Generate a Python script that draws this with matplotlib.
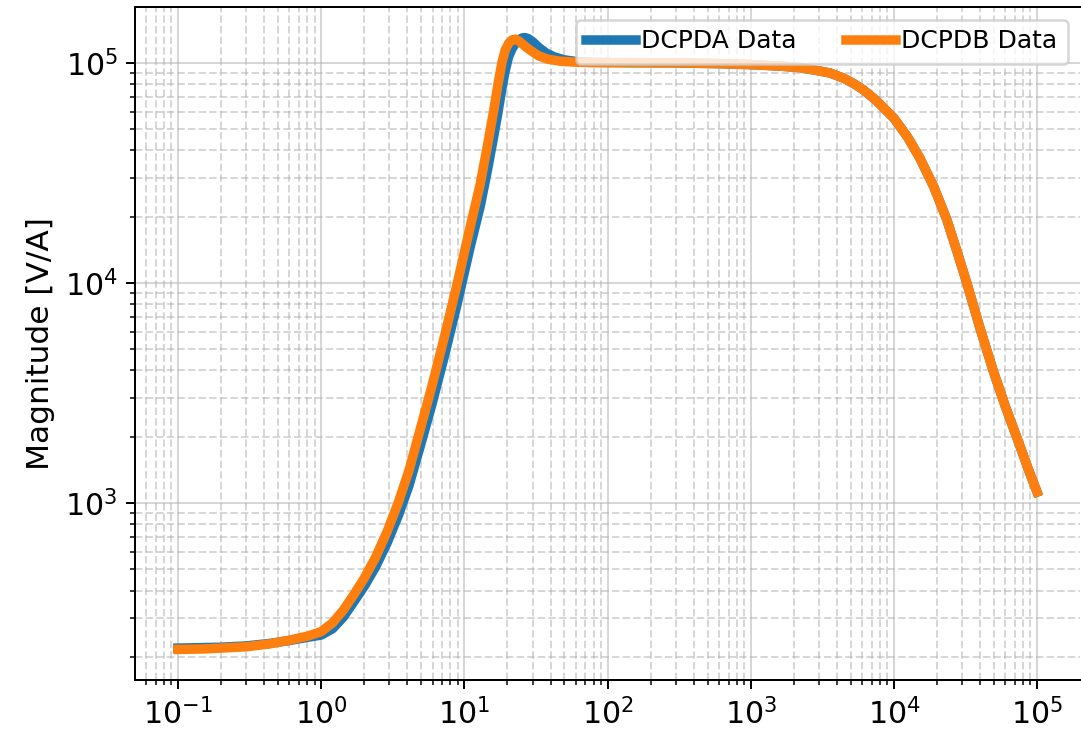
import numpy as np
import matplotlib
matplotlib.use('Agg')
import matplotlib.pyplot as plt

# frequency [Hz] and magnitude [V/A]
freq_a = [0.1, 0.2, 0.3, 0.44, 0.6, 0.8, 1.0, 1.2, 1.43, 1.7, 2.0, 2.4, 2.88, 3.47,
          4.1, 4.91, 5.9, 7.2, 8.86, 11.0, 12.9, 14.4, 16.0, 17.2, 18.3, 19.3, 20.4,
          21.6, 22.8, 24.0, 25.3, 26.6, 28.0, 30.0, 33.0, 37.0, 42.0, 50.0, 60.0, 80.0,
          150.0, 300.0, 600.0, 1000.0, 1600.0, 2200.0, 2800.0, 3580.0, 4500.0, 5300.0,
          6120.0, 7500.0, 10000.0, 12500.0, 15200.0, 19000.0, 23400.0, 27500.0,
          32300.0, 40000.0, 49600.0, 60000.0, 74000.0, 87000.0, 100000.0]
mag_a = [219, 221, 224, 230, 237, 245, 251, 268, 303, 357, 418, 512, 655, 880,
         1196, 1800, 2760, 4550, 7900, 14600, 22200, 31700, 45800, 59800, 76400,
         91900, 106700, 116000, 122500, 127000, 129500, 130000, 128500, 124500,
         117500, 111000, 106500, 103000, 101300, 100400, 100000, 99800, 99000, 98000,
         96500, 95000, 92500, 89800, 84800, 80000, 75300, 67500, 56000, 45800, 36800,
         27300, 19400, 14000, 10000, 6200, 3950, 2750, 1900, 1420, 1120]

freq_b = [0.1, 0.15, 0.2, 0.3, 0.44, 0.6, 0.8, 1.0, 1.2, 1.43, 1.7, 2.0, 2.4, 2.88,
          3.47, 4.1, 4.91, 5.9, 7.2, 8.86, 11.0, 12.9, 14.4, 16.0, 17.2, 18.3, 19.3,
          20.4, 21.6, 22.8, 24.0, 25.5, 27.3, 30.0, 33.0, 37.7, 46.7, 60.0, 80.0,
          150.0, 300.0, 600.0, 1000.0, 1600.0, 2200.0, 2800.0, 3580.0, 4500.0, 5300.0,
          6120.0, 7500.0, 10000.0, 12500.0, 15200.0, 19000.0, 23400.0, 27500.0,
          32300.0, 40000.0, 49600.0, 60000.0, 74000.0, 87000.0, 100000.0]
mag_b = [216, 217, 219, 222, 229, 238, 248, 260, 285, 326, 385, 455, 566, 737,
         1010, 1400, 2150, 3340, 5560, 9730, 18000, 28000, 40900, 60000, 80000,
         100000, 114000, 122500, 127000, 127800, 125500, 121500, 117000, 112000,
         107500, 104000, 101500, 100500, 100000, 100000, 99800, 99000, 98000, 96500,
         95000, 92500, 89800, 84800, 80000, 75300, 67500, 56000, 45800, 36800, 27300,
         19400, 14000, 10000, 6200, 3950, 2750, 1900, 1420, 1120]

fig = plt.figure(figsize=(1081 / 180, 733 / 180), dpi=180)
ax = fig.add_axes([135 / 1081, 53 / 733, 945 / 1081, 673 / 733])

ax.loglog(freq_a, mag_a, color='tab:blue', linewidth=3.8, label='DCPDA Data')
ax.loglog(freq_b, mag_b, color='tab:orange', linewidth=3.8, label='DCPDB Data')

ax.grid(True, which='major', linestyle='-', alpha=0.5)
ax.grid(True, which='minor', linestyle='--', alpha=0.5)
ax.spines['right'].set_visible(False)

ax.set_ylabel('Magnitude [V/A]', fontsize=12.5)
ax.tick_params(axis='both', which='major', labelsize=12)
ax.legend(loc='upper right', ncol=2, fontsize=10, handletextpad=0.2)

fig.savefig('out.png', dpi=180)
